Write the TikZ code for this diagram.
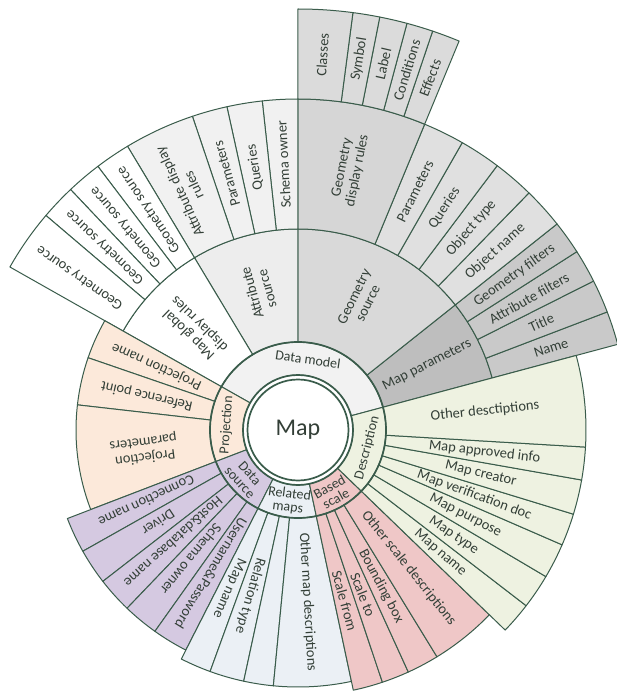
\documentclass[tikz,border=0pt]{standalone}
\usepackage{fontspec}
\setmainfont{Carlito}
\usepackage{xcolor}
\usepackage{tikz}
\usetikzlibrary{calc}
\definecolor{cLine}{HTML}{3A5C4B}
\definecolor{cText}{HTML}{333F37}
\definecolor{cDm}{HTML}{F2F2F2}
\definecolor{cAsrc}{HTML}{EDEDED}
\definecolor{cAsrcK}{HTML}{F1F1F1}
\definecolor{cMgl}{HTML}{FFFFFF}
\definecolor{cGsrc}{HTML}{D9D9D9}
\definecolor{cGsrcK}{HTML}{E0E0E0}
\definecolor{cGdr}{HTML}{D6D6D6}
\definecolor{cGdrK}{HTML}{DBDBDB}
\definecolor{cMpar}{HTML}{BEBEBE}
\definecolor{cMparK}{HTML}{C9C9C9}
\definecolor{cProj}{HTML}{FCE9DA}
\definecolor{cDsrc}{HTML}{D5C9E1}
\definecolor{cRel}{HTML}{EBF0F5}
\definecolor{cBsc}{HTML}{EFC7C7}
\definecolor{cDesc}{HTML}{EEF2E1}
\tikzset{
  sec/.style  = {draw=cLine, line width=1pt, line join=round},
  rim/.style  = {draw=cLine, line width=1.7pt},
  lab/.style  = {font=\fontsize{14.5}{15.5}\selectfont, text=cText, align=center, inner sep=0pt},
  rlab/.style = {lab, font=\fontsize{14}{13.5}\selectfont},
  maplab/.style = {font=\fontsize{24}{24}\selectfont, text=cText, inner sep=0pt},
}
% one ring segment: fill, start angle, end angle, inner radius, outer radius
\newcommand{\sbsec}[5]{%
  \path[sec, fill=#1] (#2:#4pt) arc[start angle=#2, end angle=#3, radius=#4pt]
    -- (#3:#5pt) arc[start angle=#3, end angle=#2, radius=#5pt] -- cycle;}
% segment with a radial label: [inner radius] name, fill, a1, a2, outer radius, text
\newcommand{\sbleaf}[7][88]{%
  \pgfmathsetmacro\sbmid{(#4+#5)/2}%
  \pgfmathsetmacro\sbrad{(#1+#6)/2}%
  \sbsec{#3}{#4}{#5}{#1}{#6}%
  \node[lab, rotate=\sbmid] (#2) at (\sbmid:\sbrad pt) {#7};}
% ring label: name, angle, radius, rotation, text
\newcommand{\sblab}[5]{\node[rlab, rotate=#4] (#1) at (#2:#3pt) {#5};}

\begin{document}
\begin{tikzpicture}
  \useasboundingbox (-298pt,-261pt) rectangle (319pt,430pt);

  % ---- DATA MODEL ----
  \sbsec{cDm}{15}{150.5}{55}{88}
  \sbleaf{mpar}{cMpar}{15}{38.5}{201}{Map parameters}
  \sbleaf{gsrc}{cGsrc}{38.5}{90}{201}{Geometry\\source}
  \sbleaf{asrc}{cAsrc}{90}{121}{201}{Attribute\\source}
  \sbleaf{mgdr}{cMgl}{121}{150.5}{201}{Map global\\display rules}
  % map parameters
  \sbleaf[201]{name}{cMparK}{15}{20.9}{331}{Name}
  \sbleaf[201]{title}{cMparK}{20.9}{26.75}{331}{Title}
  \sbleaf[201]{afil}{cMparK}{26.75}{32.6}{331}{Attribute filters}
  \sbleaf[201]{gfil}{cMparK}{32.6}{38.5}{331}{Geometry filters}
  % geometry source
  \sbleaf[201]{oname}{cGsrcK}{38.5}{45.75}{331}{Object name}
  \sbleaf[201]{otype}{cGsrcK}{45.75}{53}{331}{Object type}
  \sbleaf[201]{gqry}{cGsrcK}{53}{60.25}{331}{Queries}
  \sbleaf[201]{gpar}{cGsrcK}{60.25}{67.5}{331}{Parameters}
  \sbleaf[201]{gdr}{cGdr}{67.5}{90}{331}{Geometry\\display rules}
  \sbleaf[331]{eff}{cGdrK}{67.5}{71.35}{421}{Effects}
  \sbleaf[331]{cond}{cGdrK}{71.35}{75}{421}{Conditions}
  \sbleaf[331]{glab}{cGdrK}{75}{78.8}{421}{Label}
  \sbleaf[331]{sym}{cGdrK}{78.8}{82.5}{421}{Symbol}
  \sbleaf[331]{cls}{cGdrK}{82.5}{90}{421}{Classes}
  % attribute source
  \sbleaf[201]{sown}{cAsrcK}{90}{96.2}{331}{Schema owner}
  \sbleaf[201]{aqry}{cAsrcK}{96.2}{102.4}{331}{Queries}
  \sbleaf[201]{apar}{cAsrcK}{102.4}{108.6}{331}{Parameters}
  \sbleaf[201]{adr}{cAsrcK}{108.6}{121}{331}{Attribute display\\rules}
  % map global display rules
  \sbleaf[201]{gs1}{cMgl}{121}{127.2}{331}{Geometry source}
  \sbleaf[201]{gs2}{cMgl}{127.2}{133.4}{331}{Geometry source}
  \sbleaf[201]{gs3}{cMgl}{133.4}{139.6}{331}{Geometry source}
  \sbleaf[201]{gs4}{cMgl}{139.6}{150.5}{331}{Geometry source}

  % ---- PROJECTION ----
  \sbsec{cProj}{150.5}{201}{55}{88}
  \sbleaf{pname}{cProj}{150.5}{161}{222}{Projection name}
  \sbleaf{rpt}{cProj}{161}{173.5}{222}{Reference point}
  \sbleaf{ppar}{cProj}{173.5}{201}{222}{Projection\\parameters}

  % ---- DATA SOURCE ----
  \sbsec{cDsrc}{201}{243}{55}{88}
  \sbleaf{conn}{cDsrc}{201}{209.4}{247}{Connection name}
  \sbleaf{drv}{cDsrc}{209.4}{217.8}{247}{Driver}
  \sbleaf{host}{cDsrc}{217.8}{226.2}{247}{Host\&database name}
  \sbleaf{dsown}{cDsrc}{226.2}{234.6}{247}{Schema owner}
  \sbleaf{upw}{cDsrc}{234.6}{243}{247}{Username\&Password}

  % ---- RELATED MAPS ----
  \sbsec{cRel}{243}{282}{55}{88}
  \sbleaf{rmname}{cRel}{243}{250}{257}{Map name}
  \sbleaf{rtype}{cRel}{250}{257.8}{257}{Relation type}
  \sbsec{cRel}{257.8}{264.5}{88}{257}
  \sbleaf{omd}{cRel}{264.5}{282}{257}{Other map descriptions}

  % ---- BASED SCALE ----
  \sbsec{cBsc}{282}{316}{55}{88}
  \sbleaf{sfrom}{cBsc}{282}{288.5}{266}{Scale from}
  \sbleaf{sto}{cBsc}{288.5}{294.5}{266}{Scale to}
  \sbleaf{bbox}{cBsc}{294.5}{301.5}{266}{Bounding box}
  \sbleaf{osd}{cBsc}{301.5}{316}{266}{Other scale descriptions}

  % ---- DESCRIPTION ----
  \sbsec{cDesc}{316}{375}{55}{88}
  \sbleaf{dname}{cDesc}{316}{322.4}{288}{Map name}
  \sbleaf{dtype}{cDesc}{322.4}{329.4}{288}{Map type}
  \sbleaf{dpurp}{cDesc}{329.4}{336.5}{288}{Map purpose}
  \sbleaf{dver}{cDesc}{336.5}{343}{288}{Map verification doc}
  \sbleaf{dcre}{cDesc}{343}{350}{288}{Map creator}
  \sbleaf{dapp}{cDesc}{350}{356.6}{288}{Map approved info}
  \sbleaf{odesc}{cDesc}{356.6}{375}{288}{Other desctiptions}

  % ---- CENTRE ----
  \draw[rim] (0,0) circle[radius=88pt];
  \draw[rim, fill=white] (0,0) circle[radius=55pt];
  \draw[rim] (0,0) circle[radius=50.5pt];
  \node[maplab] (map) at (0,0) {Map};
  \sblab{dm}{82}{71.5}{-8}{Data model}
  \sblab{proj}{176}{71.5}{86}{Projection}
  \sblab{dsrc}{222}{71.5}{-48}{Data\\source}
  \sblab{rmap}{262.5}{71.5}{-7.5}{Related\\maps}
  \sblab{bsc}{299}{71.5}{29}{Based\\scale}
  \sblab{desc}{345.5}{71.5}{75.5}{Description}
\end{tikzpicture}
\end{document}
